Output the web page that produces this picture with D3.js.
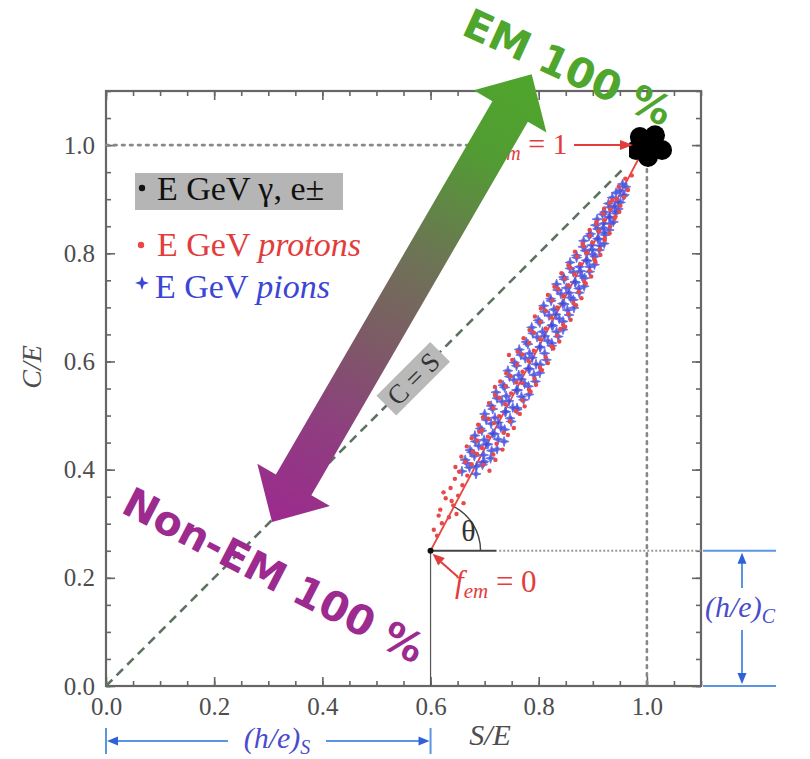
<!DOCTYPE html>
<html>
<head>
<meta charset="utf-8">
<script src="https://cdn.jsdelivr.net/npm/d3@7"></script>
<style>
  body { margin: 0; background: #fff; }
</style>
</head>
<body>
<svg id="chart" width="810" height="759"></svg>
<script>
// ---- data -------------------------------------------------------------
const xTicks = [0.0, 0.2, 0.4, 0.6, 0.8, 1.0];
const yTicks = [0.0, 0.2, 0.4, 0.6, 0.8, 1.0];

// electrons / photons: all EM, clustered at S/E = C/E = 1
const electrons = [[0.987, 1.015], [1.015, 1.018], [1.028, 0.991], [1.002, 0.978], [0.980, 0.991], [1.004, 1.000]];

// hadron showers (S/E, C/E)
const pions = [
  [0.658,0.397],[0.672,0.404],[0.684,0.392],[0.696,0.409],
  [0.667,0.412],[0.685,0.406],[0.699,0.415],
  [0.664,0.418],[0.681,0.425],[0.697,0.413],[0.711,0.421],
  [0.676,0.432],[0.698,0.427],[0.713,0.435],
  [0.673,0.436],[0.689,0.444],[0.706,0.447],[0.723,0.438],
  [0.683,0.452],[0.703,0.447],[0.725,0.456],
  [0.682,0.463],[0.699,0.455],[0.718,0.466],[0.736,0.452],
  [0.695,0.472],[0.715,0.467],[0.737,0.474],
  [0.692,0.476],[0.712,0.485],[0.730,0.478],[0.749,0.489],
  [0.703,0.492],[0.725,0.487],[0.747,0.495],
  [0.700,0.503],[0.719,0.496],[0.738,0.507],[0.760,0.511],
  [0.715,0.512],[0.739,0.507],[0.760,0.514],
  [0.712,0.518],[0.732,0.526],[0.752,0.515],[0.772,0.529],
  [0.723,0.532],[0.745,0.527],[0.768,0.535],
  [0.721,0.543],[0.740,0.536],[0.761,0.547],[0.782,0.539],
  [0.737,0.552],[0.759,0.547],[0.781,0.554],
  [0.734,0.556],[0.754,0.566],[0.774,0.559],[0.794,0.563],
  [0.746,0.572],[0.768,0.567],[0.791,0.575],
  [0.743,0.583],[0.763,0.575],[0.783,0.586],[0.802,0.579],
  [0.759,0.592],[0.781,0.587],[0.803,0.594],
  [0.755,0.598],[0.775,0.606],[0.795,0.595],[0.814,0.603],
  [0.767,0.612],[0.788,0.607],[0.811,0.615],
  [0.764,0.622],[0.783,0.615],[0.803,0.626],[0.824,0.629],
  [0.780,0.632],[0.802,0.627],[0.824,0.634],
  [0.777,0.636],[0.797,0.645],[0.817,0.638],[0.836,0.646],
  [0.789,0.652],[0.811,0.647],[0.833,0.655],
  [0.787,0.663],[0.807,0.655],[0.826,0.666],[0.845,0.659],
  [0.802,0.672],[0.824,0.667],[0.845,0.674],
  [0.799,0.676],[0.819,0.685],[0.838,0.679],[0.856,0.686],
  [0.811,0.692],[0.832,0.687],[0.853,0.695],
  [0.809,0.703],[0.828,0.696],[0.847,0.706],[0.865,0.699],
  [0.823,0.712],[0.844,0.707],[0.864,0.714],
  [0.822,0.716],[0.841,0.725],[0.859,0.718],[0.875,0.727],
  [0.835,0.732],[0.856,0.727],[0.874,0.735],
  [0.833,0.743],[0.851,0.736],[0.868,0.746],[0.884,0.739],
  [0.847,0.752],[0.867,0.747],[0.885,0.754],
  [0.846,0.756],[0.864,0.765],[0.880,0.758],[0.894,0.766],
  [0.858,0.772],[0.877,0.767],[0.894,0.775],
  [0.858,0.783],[0.875,0.775],[0.890,0.786],[0.903,0.779],
  [0.870,0.792],[0.888,0.787],[0.904,0.794],
  [0.870,0.796],[0.886,0.805],[0.900,0.798],[0.912,0.806],
  [0.882,0.812],[0.899,0.807],[0.914,0.814],
  [0.883,0.823],[0.898,0.815],[0.911,0.826],[0.921,0.818],
  [0.893,0.832],[0.909,0.827],[0.923,0.834],
  [0.896,0.836],[0.909,0.845],[0.921,0.838],[0.930,0.843],
  [0.905,0.852],[0.920,0.847],[0.933,0.855],
  [0.908,0.863],[0.920,0.855],[0.931,0.866],[0.938,0.858],
  [0.918,0.872],[0.931,0.867],[0.942,0.874],
  [0.922,0.876],[0.932,0.885],[0.942,0.878],[0.947,0.882],
  [0.929,0.892],[0.941,0.887],[0.951,0.894],
  [0.936,0.903],[0.947,0.895],[0.956,0.906],
  [0.943,0.912],[0.958,0.908],
  [0.950,0.916],[0.961,0.923],[0.955,0.928]
];

const protons = [
  [0.612,0.278],[0.621,0.301],[0.606,0.289],[0.634,0.312],[0.618,0.326],[0.642,0.334],
  [0.628,0.347],[0.651,0.352],[0.637,0.366],[0.659,0.371],[0.624,0.358],[0.645,0.383],
  [0.668,0.389],[0.653,0.396],[0.639,0.342],[0.661,0.338],[0.615,0.315],[0.648,0.318],
  [0.646,0.405],[0.709,0.398],[0.676,0.410],
  [0.664,0.414],[0.697,0.409],
  [0.657,0.424],[0.720,0.418],[0.686,0.429],
  [0.678,0.433],[0.716,0.428],
  [0.667,0.443],[0.733,0.437],[0.695,0.440],
  [0.686,0.454],[0.722,0.448],
  [0.676,0.458],[0.743,0.464],[0.706,0.461],
  [0.695,0.473],[0.735,0.468],
  [0.688,0.483],[0.754,0.477],[0.717,0.486],
  [0.707,0.494],[0.747,0.489],
  [0.697,0.497],[0.765,0.503],[0.727,0.499],
  [0.716,0.514],[0.758,0.508],
  [0.708,0.523],[0.774,0.517],[0.738,0.521],
  [0.727,0.533],[0.770,0.528],
  [0.719,0.538],[0.785,0.544],[0.749,0.541],
  [0.739,0.554],[0.782,0.548],
  [0.729,0.563],[0.795,0.557],[0.759,0.561],
  [0.748,0.573],[0.792,0.568],
  [0.740,0.578],[0.806,0.584],[0.770,0.581],
  [0.760,0.594],[0.802,0.589],
  [0.751,0.603],[0.817,0.597],[0.781,0.601],
  [0.770,0.613],[0.813,0.608],
  [0.761,0.618],[0.827,0.624],[0.791,0.620],
  [0.782,0.634],[0.824,0.628],
  [0.772,0.643],[0.838,0.637],[0.802,0.641],
  [0.791,0.653],[0.834,0.648],
  [0.783,0.658],[0.849,0.664],[0.813,0.661],
  [0.803,0.673],[0.845,0.668],
  [0.793,0.683],[0.859,0.677],[0.823,0.681],
  [0.813,0.694],[0.855,0.688],
  [0.804,0.698],[0.869,0.704],[0.834,0.700],
  [0.825,0.713],[0.864,0.708],
  [0.817,0.723],[0.879,0.717],[0.845,0.721],
  [0.836,0.734],[0.874,0.729],
  [0.829,0.738],[0.887,0.744],[0.855,0.741],
  [0.848,0.753],[0.884,0.748],
  [0.842,0.763],[0.897,0.757],[0.866,0.761],
  [0.859,0.773],[0.894,0.768],
  [0.855,0.778],[0.905,0.784],[0.877,0.780],
  [0.871,0.794],[0.903,0.789],
  [0.867,0.803],[0.914,0.797],[0.888,0.801],
  [0.883,0.813],[0.913,0.808],
  [0.881,0.818],[0.922,0.824],[0.899,0.820],
  [0.895,0.833],[0.922,0.828],
  [0.894,0.843],[0.931,0.837],[0.910,0.841],
  [0.907,0.854],[0.932,0.849],
  [0.907,0.858],[0.940,0.864],[0.921,0.861],
  [0.919,0.873],[0.942,0.868],
  [0.921,0.883],[0.949,0.877],[0.932,0.881],
  [0.931,0.893],[0.951,0.888],
  [0.936,0.898],[0.958,0.904],[0.944,0.900],
  [0.948,0.923],[0.965,0.917],
  [0.960,0.938],[0.972,0.944],
  [0.719,0.553],[0.745,0.612],[0.770,0.560],[0.690,0.470],[0.840,0.660]
];

// hadronic response endpoints: f_em = 0 at (h/e)_S, (h/e)_C ; f_em = 1 at (1, 1)
const hS = 0.6;
const hC = 0.25;

const legendMain   = ["E GeV \u03b3, e\u00b1", "E GeV ", "E GeV "];
const legendItalic = ["", "protons", "pions"];
const legendColors = ["#111", "#e23c3c", "#3b45d6"];

// ---- scales -----------------------------------------------------------
const svg = d3.select("#chart");
const x = d3.scaleLinear().domain([0, 1.1]).range([106, 701]);
const y = d3.scaleLinear().domain([0, 1.1]).range([686, 91]);

const serif = "'Liberation Serif','Times New Roman',Times,serif";
const sans  = "'DejaVu Sans',Verdana,sans-serif";
const minorTicks = d3.range(0, 23).map(i => +(i * 0.05).toFixed(2));

const defs = svg.append("defs");

// ---- axes (ticks point inward on all four sides) -----------------------
function styleAxis(g) {
  g.select(".domain").remove();
  g.selectAll("line").attr("stroke", "#666").attr("stroke-width", 1.6);
  g.selectAll("text").attr("font-family", serif).attr("font-size", 25).attr("fill", "#4d4d4d");
}
const fmt = d3.format(".1f");
svg.append("g").attr("transform", `translate(0,${y(0)})`)
  .call(d3.axisBottom(x).tickValues(minorTicks).tickSize(-5).tickFormat("")).call(styleAxis);
svg.append("g").attr("transform", `translate(0,${y(0)})`)
  .call(d3.axisBottom(x).tickValues(xTicks).tickSize(-9).tickPadding(11).tickFormat(fmt)).call(styleAxis);
svg.append("g").attr("transform", `translate(${x(0)},0)`)
  .call(d3.axisLeft(y).tickValues(minorTicks).tickSize(-5).tickFormat("")).call(styleAxis);
svg.append("g").attr("transform", `translate(${x(0)},0)`)
  .call(d3.axisLeft(y).tickValues(yTicks).tickSize(-9).tickPadding(11).tickFormat(fmt)).call(styleAxis);
svg.append("g").attr("transform", `translate(0,${y(1.1)})`)
  .call(d3.axisTop(x).tickValues(minorTicks).tickSize(-5).tickFormat("")).call(styleAxis);
svg.append("g").attr("transform", `translate(0,${y(1.1)})`)
  .call(d3.axisTop(x).tickValues(xTicks).tickSize(-9).tickFormat("")).call(styleAxis);
svg.append("g").attr("transform", `translate(${x(1.1)},0)`)
  .call(d3.axisRight(y).tickValues(minorTicks).tickSize(-5).tickFormat("")).call(styleAxis);
svg.append("g").attr("transform", `translate(${x(1.1)},0)`)
  .call(d3.axisRight(y).tickValues(yTicks).tickSize(-9).tickFormat("")).call(styleAxis);

svg.append("rect")
  .attr("x", x(0)).attr("y", y(1.1))
  .attr("width", x(1.1) - x(0)).attr("height", y(0) - y(1.1))
  .attr("fill", "none").attr("stroke", "#666").attr("stroke-width", 2.2);

// axis titles
svg.append("text").attr("transform", `translate(41,${y(0.59)}) rotate(-90)`)
  .attr("text-anchor", "middle").attr("font-family", serif).attr("font-style", "italic")
  .attr("font-size", 28).attr("fill", "#4d4d4d").text("C/E");
svg.append("text").attr("x", x(0.71)).attr("y", 745)
  .attr("text-anchor", "middle").attr("font-family", serif).attr("font-style", "italic")
  .attr("font-size", 30).attr("fill", "#4d4d4d").text("S/E");

// ---- reference lines --------------------------------------------------
const dotted = { stroke: "#888", width: 2.6, dash: "2.6,5.4" };
svg.append("line").attr("x1", x(0)).attr("x2", x(1)).attr("y1", y(1)).attr("y2", y(1))
  .attr("stroke", dotted.stroke).attr("stroke-width", dotted.width)
  .attr("stroke-dasharray", dotted.dash).attr("stroke-linecap", "round");
svg.append("line").attr("x1", x(1)).attr("x2", x(1)).attr("y1", y(0.97)).attr("y2", y(0))
  .attr("stroke", dotted.stroke).attr("stroke-width", dotted.width)
  .attr("stroke-dasharray", dotted.dash).attr("stroke-linecap", "round");
svg.append("line").attr("x1", x(0.727)).attr("x2", x(1.1)).attr("y1", y(hC)).attr("y2", y(hC))
  .attr("stroke", "#999").attr("stroke-width", 2.2).attr("stroke-dasharray", "2,2");

// C = S diagonal
svg.append("line").attr("x1", x(0)).attr("y1", y(0)).attr("x2", x(0.955)).attr("y2", y(0.955))
  .attr("stroke", "#5d7360").attr("stroke-width", 2.6).attr("stroke-dasharray", "9,6");

// f_em line from (h/e) point to (1,1)
svg.append("line").attr("x1", x(hS)).attr("y1", y(hC)).attr("x2", x(0.99)).attr("y2", y(0.985))
  .attr("stroke", "#e8463f").attr("stroke-width", 1.8);

// horizontal base and vertical drop at (h/e)
svg.append("line").attr("x1", x(hS)).attr("x2", x(0.722)).attr("y1", y(hC)).attr("y2", y(hC))
  .attr("stroke", "#444").attr("stroke-width", 2);
svg.append("line").attr("x1", x(hS)).attr("x2", x(hS)).attr("y1", y(hC)).attr("y2", y(0))
  .attr("stroke", "#555").attr("stroke-width", 1.2);

// angle arc theta
const theta = Math.atan2(y(hC) - y(0.99), x(0.99) - x(hS));
const arcR = 50;
svg.append("path")
  .attr("d", d3.arc()({ innerRadius: arcR, outerRadius: arcR, startAngle: Math.PI / 2 - theta, endAngle: Math.PI / 2 }))
  .attr("transform", `translate(${x(hS)},${y(hC)})`)
  .attr("fill", "none").attr("stroke", "#444").attr("stroke-width", 1.4);
svg.append("text").attr("x", x(hS) + 38).attr("y", y(hC) - 10)
  .attr("text-anchor", "middle").attr("font-family", serif).attr("font-size", 30)
  .attr("fill", "#333").text("\u03b8");

// ---- scatter ----------------------------------------------------------
const starPath = "M0,-5L1.2,-1.2L5,0L1.2,1.2L0,5L-1.2,1.2L-5,0L-1.2,-1.2Z";
svg.append("g").selectAll("path").data(pions).join("path")
  .attr("d", starPath)
  .attr("transform", d => `translate(${x(d[0])},${y(d[1])})`)
  .attr("fill", "#3d48db").attr("stroke", "#5964e6").attr("stroke-width", 1).attr("opacity", 0.88);
svg.append("g").selectAll("circle").data(protons).join("circle")
  .attr("cx", d => x(d[0])).attr("cy", d => y(d[1])).attr("r", 2.2)
  .attr("fill", "#e84848");
svg.append("g").selectAll("circle").data(electrons).join("circle")
  .attr("cx", d => x(d[0])).attr("cy", d => y(d[1])).attr("r", 10)
  .attr("fill", "#000");
svg.append("circle").attr("cx", x(hS)).attr("cy", y(hC)).attr("r", 3).attr("fill", "#111");

// ---- f_em annotations -------------------------------------------------
function arrowHead(tipX, tipY, angle, len, half, color) {
  const ux = Math.cos(angle), uy = Math.sin(angle);
  const bx = tipX - ux * len, by = tipY - uy * len;
  svg.append("path")
    .attr("d", `M${tipX},${tipY}L${bx - uy * half},${by + ux * half}L${bx + uy * half},${by - ux * half}Z`)
    .attr("fill", color);
}
const red = "#e23c3c";

// f_em = 1
svg.append("rect").attr("x", 497).attr("y", 128).attr("width", 132).attr("height", 30).attr("fill", "#fff");
const fem1 = svg.append("text").attr("x", 489).attr("y", 154)
  .attr("font-family", serif).attr("font-size", 30).attr("fill", red);
fem1.append("tspan").attr("font-style", "italic").text("f");
fem1.append("tspan").attr("font-style", "italic").attr("font-size", 20).attr("dy", 6).text("em");
fem1.append("tspan").attr("dy", -6).text(" = 1");
svg.append("line").attr("x1", 574).attr("x2", 622).attr("y1", y(1)).attr("y2", y(1))
  .attr("stroke", red).attr("stroke-width", 2);
arrowHead(633, y(1), 0, 13, 5, red);

// f_em = 0
const fem0 = svg.append("text").attr("x", 455).attr("y", 592)
  .attr("font-family", serif).attr("font-size", 31).attr("fill", red);
fem0.append("tspan").attr("font-style", "italic").text("f");
fem0.append("tspan").attr("font-style", "italic").attr("font-size", 21).attr("dy", 6).text("em");
fem0.append("tspan").attr("dy", -6).text(" = 0");
svg.append("line").attr("x1", 458).attr("y1", 577).attr("x2", 441).attr("y2", 562)
  .attr("stroke", red).attr("stroke-width", 2);
arrowHead(x(hS) + 2, y(hC) + 3, Math.atan2(562 - 577, 441 - 458), 12, 5, red);

// C = S tag on the diagonal
const tagPos = 0.568;
const tag = svg.append("g").attr("transform", `translate(${x(tagPos)},${y(tagPos)}) rotate(-45)`);
tag.append("rect").attr("x", -38).attr("y", -14).attr("width", 76).attr("height", 28).attr("fill", "#b9b9b9");
tag.append("text").attr("text-anchor", "middle").attr("dy", "0.34em")
  .attr("font-family", serif).attr("font-size", 27).attr("fill", "#333").text("C = S");

// ---- EM / non-EM double arrow ----------------------------------------
const tipTop = [x(0.787), y(1.131)];
const tipBot = [x(0.307), y(0.303)];
const L = Math.hypot(tipTop[0] - tipBot[0], tipTop[1] - tipBot[1]);
const u = [(tipTop[0] - tipBot[0]) / L, (tipTop[1] - tipBot[1]) / L];
const n = [-u[1], u[0]];
const headLen = 43, headHalf = 42, shaftHalf = 20.5;
const P = (p, a, b) => [p[0] + u[0] * a + n[0] * b, p[1] + u[1] * a + n[1] * b];
const pts = [
  tipTop, P(tipTop, -headLen, headHalf), P(tipTop, -headLen, shaftHalf),
  P(tipBot, headLen, shaftHalf), P(tipBot, headLen, headHalf), tipBot,
  P(tipBot, headLen, -headHalf), P(tipBot, headLen, -shaftHalf),
  P(tipTop, -headLen, -shaftHalf), P(tipTop, -headLen, -headHalf)
];
const grad = defs.append("linearGradient").attr("id", "emGrad")
  .attr("gradientUnits", "userSpaceOnUse")
  .attr("x1", tipTop[0]).attr("y1", tipTop[1]).attr("x2", tipBot[0]).attr("y2", tipBot[1]);
[[0, "#4ea62c"], [0.18, "#529c33"], [0.42, "#6e7256"], [0.6, "#7d5a66"], [0.8, "#8f3d80"], [1, "#9c2a8f"]]
  .forEach(([o, c]) => grad.append("stop").attr("offset", o).attr("stop-color", c));
svg.append("path").attr("d", d3.line()(pts) + "Z").attr("fill", "url(#emGrad)");

svg.append("text").attr("transform", "translate(568,67) rotate(24.5)")
  .attr("text-anchor", "middle").attr("dy", "0.36em")
  .attr("font-family", sans).attr("font-weight", "bold").attr("font-size", 41)
  .attr("fill", "#4ea62c").text("EM 100 %");
svg.append("text").attr("transform", "translate(274,575) rotate(27.3)")
  .attr("text-anchor", "middle").attr("dy", "0.36em")
  .attr("font-family", sans).attr("font-weight", "bold").attr("font-size", 41)
  .attr("fill", "#9c2a8f").text("Non-EM 100 %");

// ---- legend -----------------------------------------------------------
svg.append("rect").attr("x", 135).attr("y", 173).attr("width", 208).attr("height", 37).attr("fill", "#b5b5b5");
const legendY = [200, 256, 298];
legendMain.forEach((m, i) => {
  const t = svg.append("text").attr("x", i === 2 ? 155 : 157).attr("y", legendY[i])
    .attr("font-family", serif).attr("font-size", 34).attr("fill", legendColors[i]);
  t.append("tspan").text(m);
  if (legendItalic[i]) t.append("tspan").attr("font-style", "italic").text(legendItalic[i]);
});
svg.append("circle").attr("cx", 142).attr("cy", 188).attr("r", 3.2).attr("fill", "#111");
svg.append("circle").attr("cx", 141).attr("cy", 245).attr("r", 3.2).attr("fill", "#e84848");
svg.append("path").attr("d", "M0,-7L1.8,-1.8L7,0L1.8,1.8L0,7L-1.8,1.8L-7,0L-1.8,-1.8Z")
  .attr("transform", "translate(142,283)").attr("fill", "#3b45d6");

// ---- (h/e) dimension markers -----------------------------------------
const dimBlue = "#5a95e4";
const textBlue = "#4a4ccb";
const dimY = 741;
// horizontal: S
svg.append("line").attr("x1", x(0)).attr("x2", x(0)).attr("y1", 728).attr("y2", 754).attr("stroke", dimBlue).attr("stroke-width", 2);
svg.append("line").attr("x1", x(hS)).attr("x2", x(hS)).attr("y1", 728).attr("y2", 754).attr("stroke", dimBlue).attr("stroke-width", 2);
svg.append("line").attr("x1", x(0) + 6).attr("x2", 228).attr("y1", dimY).attr("y2", dimY).attr("stroke", dimBlue).attr("stroke-width", 2);
svg.append("line").attr("x1", 326).attr("x2", x(hS) - 6).attr("y1", dimY).attr("y2", dimY).attr("stroke", dimBlue).attr("stroke-width", 2);
arrowHead(x(0) + 1, dimY, Math.PI, 11, 4.5, "#2f62d8");
arrowHead(x(hS) - 1, dimY, 0, 11, 4.5, "#2f62d8");
const hs = svg.append("text").attr("x", 277).attr("y", 748).attr("text-anchor", "middle")
  .attr("font-family", serif).attr("font-style", "italic").attr("font-size", 30).attr("fill", textBlue);
hs.append("tspan").text("(h/e)");
hs.append("tspan").attr("font-size", 20).attr("dy", 6).text("S");

// vertical: C
svg.append("line").attr("x1", 703).attr("x2", 776).attr("y1", y(hC)).attr("y2", y(hC)).attr("stroke", dimBlue).attr("stroke-width", 2);
svg.append("line").attr("x1", 703).attr("x2", 776).attr("y1", y(0)).attr("y2", y(0)).attr("stroke", dimBlue).attr("stroke-width", 2);
svg.append("line").attr("x1", 742).attr("x2", 742).attr("y1", y(hC) + 6).attr("y2", 588).attr("stroke", dimBlue).attr("stroke-width", 2);
svg.append("line").attr("x1", 742).attr("x2", 742).attr("y1", 630).attr("y2", y(0) - 6).attr("stroke", dimBlue).attr("stroke-width", 2);
arrowHead(742, y(hC) + 2, -Math.PI / 2, 11, 4.5, "#2f62d8");
arrowHead(742, y(0) - 2, Math.PI / 2, 11, 4.5, "#2f62d8");
const hc = svg.append("text").attr("x", 705).attr("y", 617)
  .attr("font-family", serif).attr("font-style", "italic").attr("font-size", 30).attr("fill", textBlue);
hc.append("tspan").text("(h/e)");
hc.append("tspan").attr("font-size", 20).attr("dy", 6).text("C");
</script>
</body>
</html>
